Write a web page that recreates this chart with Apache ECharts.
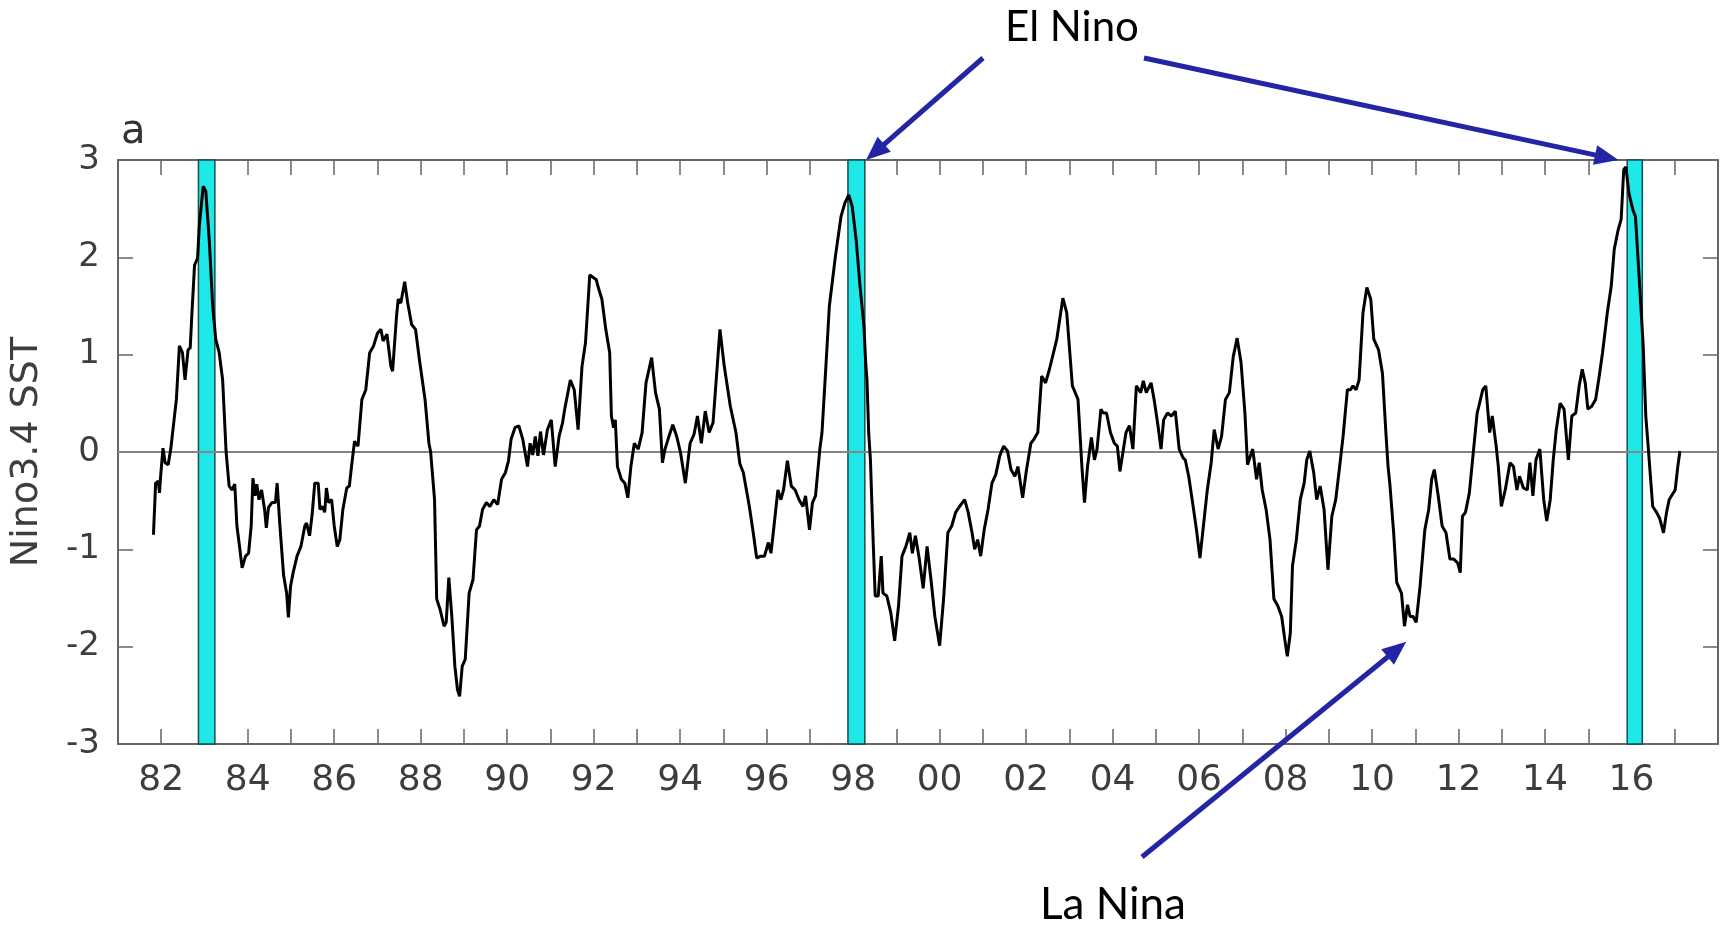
<!DOCTYPE html>
<html><head><meta charset="utf-8">
<script src="https://cdn.jsdelivr.net/npm/echarts@6/dist/echarts.min.js"></script>
<style>html,body{margin:0;padding:0;background:#fff}#c{width:1727px;height:928px}</style>
</head><body><div id="c"></div>
<script>
// ---- data (decimal years, Nino3.4 SST anomaly) ----
const years = [
1981.82,1981.87,1981.93,1981.96,1981.98,1982.04,1982.09,1982.16,1982.22,1982.35,1982.42,1982.49,1982.55,1982.62,1982.67,1982.71,1982.77,1982.84,1982.88,1982.97,
1983.03,1983.11,1983.19,1983.26,1983.34,1983.42,1983.50,1983.53,1983.57,1983.64,1983.70,1983.75,1983.81,1983.87,1983.95,1984.02,1984.08,1984.12,1984.17,1984.21,
1984.26,1984.32,1984.39,1984.43,1984.48,1984.56,1984.64,1984.68,1984.74,1984.83,1984.90,1984.94,1984.99,1985.05,1985.14,1985.23,1985.32,1985.36,1985.43,1985.49,
1985.55,1985.63,1985.67,1985.73,1985.78,1985.82,1985.87,1985.94,1986.00,1986.07,1986.13,1986.20,1986.29,1986.35,1986.40,1986.47,1986.55,1986.64,1986.73,1986.82,
1986.91,1987.00,1987.08,1987.13,1987.22,1987.31,1987.35,1987.44,1987.48,1987.54,1987.63,1987.70,1987.79,1987.88,1987.97,1988.10,1988.19,1988.23,1988.32,1988.37,
1988.45,1988.54,1988.59,1988.65,1988.72,1988.79,1988.85,1988.90,1988.96,1989.03,1989.12,1989.21,1989.29,1989.36,1989.43,1989.52,1989.60,1989.69,1989.78,1989.87,
1989.96,1990.03,1990.09,1990.18,1990.27,1990.36,1990.47,1990.53,1990.59,1990.65,1990.71,1990.77,1990.84,1990.93,1991.02,1991.11,1991.20,1991.28,1991.33,1991.46,
1991.55,1991.64,1991.73,1991.81,1991.91,1992.06,1992.10,1992.19,1992.28,1992.37,1992.41,1992.46,1992.50,1992.55,1992.64,1992.72,1992.79,1992.86,1992.94,1993.03,
1993.12,1993.21,1993.34,1993.43,1993.52,1993.59,1993.65,1993.74,1993.83,1993.92,1994.01,1994.12,1994.23,1994.32,1994.40,1994.49,1994.58,1994.67,1994.76,1994.92,
1995.02,1995.16,1995.29,1995.38,1995.46,1995.60,1995.69,1995.77,1995.86,1995.95,1996.04,1996.10,1996.17,1996.26,1996.33,1996.39,1996.48,1996.57,1996.66,1996.75,
1996.84,1996.90,1996.99,1997.06,1997.13,1997.23,1997.28,1997.37,1997.45,1997.59,1997.72,1997.81,1997.90,1997.98,1998.07,1998.16,1998.25,1998.29,1998.32,1998.36,
1998.40,1998.43,1998.47,1998.51,1998.58,1998.65,1998.69,1998.78,1998.87,1998.96,1999.05,1999.13,1999.22,1999.31,1999.37,1999.44,1999.53,1999.62,1999.71,1999.80,
1999.89,2000.00,2000.09,2000.19,2000.28,2000.37,2000.46,2000.58,2000.66,2000.75,2000.81,2000.88,2000.95,2001.03,2001.12,2001.21,2001.30,2001.39,2001.48,2001.57,
2001.65,2001.74,2001.81,2001.92,2002.01,2002.11,2002.18,2002.27,2002.36,2002.45,2002.54,2002.71,2002.85,2002.94,2003.07,2003.20,2003.29,2003.35,2003.42,2003.51,
2003.58,2003.64,2003.73,2003.78,2003.86,2003.95,2004.04,2004.11,2004.17,2004.31,2004.39,2004.47,2004.55,2004.65,2004.71,2004.78,2004.89,2004.96,2005.05,2005.12,
2005.18,2005.27,2005.36,2005.45,2005.54,2005.63,2005.68,2005.76,2005.85,2005.94,2006.02,2006.10,2006.19,2006.28,2006.35,2006.44,2006.52,2006.61,2006.70,2006.79,
2006.88,2006.97,2007.06,2007.12,2007.24,2007.33,2007.39,2007.46,2007.55,2007.64,2007.73,2007.82,2007.91,2007.98,2008.04,2008.11,2008.16,2008.25,2008.34,2008.43,
2008.49,2008.56,2008.65,2008.72,2008.80,2008.89,2008.98,2009.07,2009.16,2009.25,2009.33,2009.43,2009.50,2009.56,2009.63,2009.70,2009.79,2009.88,2009.97,2010.04,
2010.15,2010.24,2010.32,2010.37,2010.41,2010.50,2010.57,2010.68,2010.75,2010.82,2010.88,2010.95,2011.02,2011.11,2011.22,2011.31,2011.38,2011.44,2011.53,2011.62,
2011.71,2011.80,2011.89,2011.98,2012.04,2012.09,2012.16,2012.25,2012.34,2012.43,2012.47,2012.56,2012.63,2012.72,2012.78,2012.87,2012.92,2012.99,2013.08,2013.19,
2013.27,2013.35,2013.41,2013.50,2013.59,2013.65,2013.72,2013.79,2013.88,2013.97,2014.04,2014.12,2014.19,2014.26,2014.35,2014.44,2014.54,2014.62,2014.71,2014.79,
2014.86,2014.93,2014.99,2015.08,2015.17,2015.24,2015.33,2015.44,2015.53,2015.60,2015.69,2015.76,2015.82,2015.87,2015.94,2016.03,2016.09,2016.18,2016.27,2016.33,
2016.39,2016.42,2016.49,2016.58,2016.65,2016.74,2016.81,2016.87,2016.94,2017.01,2017.07,2017.12
];
const sst = [
-0.85,-0.32,-0.30,-0.42,-0.28,0.04,-0.11,-0.13,0.03,0.54,1.09,1.02,0.74,1.05,1.07,1.43,1.92,1.99,2.32,2.73,
2.68,2.18,1.50,1.16,1.02,0.74,0.00,-0.15,-0.35,-0.39,-0.33,-0.76,-0.97,-1.19,-1.07,-1.04,-0.76,-0.27,-0.45,-0.33,
-0.49,-0.39,-0.59,-0.78,-0.57,-0.52,-0.52,-0.32,-0.73,-1.27,-1.45,-1.70,-1.38,-1.24,-1.07,-0.97,-0.76,-0.73,-0.86,-0.64,
-0.32,-0.32,-0.59,-0.56,-0.62,-0.37,-0.52,-0.49,-0.76,-0.97,-0.90,-0.59,-0.37,-0.35,-0.15,0.11,0.06,0.54,0.64,1.02,
1.09,1.22,1.26,1.14,1.21,0.88,0.83,1.39,1.57,1.53,1.75,1.53,1.31,1.26,0.95,0.54,0.09,0.00,-0.49,-1.51,
-1.62,-1.79,-1.75,-1.29,-1.69,-2.20,-2.44,-2.51,-2.20,-2.13,-1.45,-1.31,-0.80,-0.76,-0.59,-0.52,-0.56,-0.49,-0.54,-0.28,
-0.21,-0.09,0.13,0.25,0.27,0.13,-0.15,0.09,-0.03,0.16,-0.04,0.21,-0.03,0.23,0.33,-0.15,0.16,0.30,0.44,0.74,
0.64,0.23,0.88,1.12,1.82,1.77,1.70,1.57,1.26,1.02,0.37,0.25,0.33,-0.15,-0.28,-0.32,-0.47,-0.15,0.09,0.03,
0.20,0.71,0.97,0.61,0.44,-0.11,0.03,0.16,0.28,0.16,-0.01,-0.32,0.09,0.18,0.37,0.09,0.42,0.20,0.30,1.26,
0.88,0.47,0.20,-0.12,-0.21,-0.56,-0.83,-1.09,-1.07,-1.07,-0.93,-1.04,-0.76,-0.39,-0.49,-0.39,-0.09,-0.35,-0.39,-0.49,
-0.56,-0.45,-0.80,-0.52,-0.45,0.03,0.20,0.88,1.50,2.01,2.42,2.56,2.64,2.52,2.18,1.70,1.29,0.92,0.74,0.20,
-0.08,-0.49,-1.00,-1.48,-1.48,-1.07,-1.45,-1.48,-1.65,-1.94,-1.58,-1.07,-0.97,-0.83,-1.04,-0.86,-1.10,-1.40,-0.97,-1.31,
-1.69,-1.99,-1.52,-0.83,-0.76,-0.62,-0.56,-0.49,-0.62,-0.83,-1.00,-0.90,-1.07,-0.80,-0.59,-0.32,-0.23,-0.04,0.06,0.01,
-0.18,-0.25,-0.15,-0.47,-0.18,0.09,0.13,0.20,0.78,0.71,0.85,1.16,1.58,1.43,0.68,0.54,-0.15,-0.52,-0.15,0.15,
-0.08,0.03,0.44,0.40,0.40,0.20,0.09,0.06,-0.20,0.20,0.27,0.03,0.68,0.61,0.73,0.61,0.71,0.54,0.27,0.03,
0.33,0.40,0.37,0.42,0.03,-0.06,-0.08,-0.25,-0.52,-0.80,-1.09,-0.76,-0.39,-0.11,0.23,0.03,0.16,0.54,0.61,0.98,
1.17,0.92,0.40,-0.13,0.03,-0.28,-0.11,-0.39,-0.59,-0.90,-1.51,-1.58,-1.69,-1.92,-2.10,-1.86,-1.17,-0.90,-0.49,-0.32,
-0.08,0.01,-0.21,-0.49,-0.35,-0.59,-1.21,-0.66,-0.49,-0.15,0.16,0.64,0.64,0.68,0.64,0.74,1.43,1.69,1.57,1.16,
1.05,0.81,0.20,-0.15,-0.32,-0.83,-1.34,-1.45,-1.79,-1.57,-1.69,-1.69,-1.75,-1.38,-0.80,-0.59,-0.28,-0.18,-0.45,-0.76,
-0.83,-1.10,-1.10,-1.14,-1.24,-0.66,-0.62,-0.42,-0.01,0.40,0.47,0.64,0.68,0.20,0.37,0.06,-0.15,-0.56,-0.39,-0.11,
-0.15,-0.39,-0.25,-0.37,-0.39,-0.11,-0.45,-0.08,0.03,-0.49,-0.71,-0.49,-0.08,0.23,0.50,0.44,-0.08,0.37,0.40,0.68,
0.85,0.71,0.44,0.47,0.54,0.74,1.02,1.43,1.70,2.08,2.28,2.39,2.90,2.93,2.66,2.49,2.42,1.77,1.09,0.37,
0.03,-0.15,-0.56,-0.62,-0.68,-0.83,-0.62,-0.49,-0.44,-0.39,-0.15,0.01
];
const eventStarts = [1982.86, 1997.88, 2015.90];
const eventEnds   = [1983.24, 1998.27, 2016.25];
const yMin = -3, yMax = 3;
const xMin = 1981, xMax = 2018;
const panelLabel = 'a';
const yTitle = 'Nino3.4 SST';
const elNinoText = 'El Nino';
const laNinaText = 'La Nina';
// arrow targets in data coordinates
const elNinoTargets = [[1998.3, 3], [2015.7, 3]];
const laNinaTarget = [2010.79, -1.95];

// ---- chart ----
const chart = echarts.init(document.getElementById('c'), null, {renderer: 'canvas'});
const axisCol = '#666';
const labelCol = '#3d3d3d';
const font = 'DejaVu Sans';
const xLabelFmt = v => (v % 2 === 0 && v < xMax) ? String(v % 100).padStart(2, '0') : '';

const commonX = {
  type: 'value', min: xMin, max: xMax, interval: 1,
  axisLine: {show: true, onZero: false, lineStyle: {color: axisCol, width: 2}},
  axisTick: {show: true, inside: true, length: 15, lineStyle: {color: axisCol, width: 1.5}},
  splitLine: {show: false}
};
const commonY = {
  type: 'value', min: yMin, max: yMax, interval: 1,
  axisLine: {show: true, onZero: false, lineStyle: {color: axisCol, width: 2}},
  axisTick: {show: true, inside: true, length: 15, lineStyle: {color: axisCol, width: 1.5}},
  splitLine: {show: false}
};

chart.setOption({
  animation: false,
  backgroundColor: '#fff',
  grid: {left: 118, right: 9, top: 160, bottom: 184, containLabel: false},
  title: {
    text: panelLabel, left: 116, top: 108,
    textStyle: {fontFamily: font, fontSize: 40, fontWeight: 'normal', color: '#333'}
  },
  xAxis: [
    Object.assign({}, commonX, {position: 'bottom',
      axisLabel: {formatter: xLabelFmt, fontFamily: font, fontSize: 36, color: labelCol, margin: 19}}),
    Object.assign({}, commonX, {position: 'top', axisLabel: {show: false}})
  ],
  yAxis: [
    Object.assign({}, commonY, {position: 'left',
      axisLabel: {fontFamily: font, fontSize: 34, color: labelCol, margin: 18},
      name: yTitle, nameLocation: 'middle', nameGap: 72,
      nameTextStyle: {fontFamily: font, fontSize: 38, color: labelCol}}),
    Object.assign({}, commonY, {position: 'right', axisLabel: {show: false}})
  ],
  series: [
    {
      name: 'marks', type: 'line', data: [], z: 1, silent: true,
      markArea: {
        silent: true,
        itemStyle: {color: '#1fe8e8', borderColor: '#124f4f', borderWidth: 1.5},
        data: eventStarts.map((s, i) => [{xAxis: s}, {xAxis: eventEnds[i]}])
      },
      markLine: {
        silent: true, symbol: ['none', 'none'], label: {show: false},
        lineStyle: {color: '#858585', width: 2, type: 'solid'},
        data: [{yAxis: 0}]
      }
    },
    {
      name: 'Nino3.4', type: 'line', z: 5, showSymbol: false, symbol: 'none',
      data: years.map((y, i) => [y, sst[i]]),
      lineStyle: {color: '#000', width: 3}
    }
  ]
});

// ---- annotations ----
const arrowCol = '#2424a6';
function arrow(sx, sy, tx, ty) {
  const dx = tx - sx, dy = ty - sy, len = Math.hypot(dx, dy);
  const ux = dx / len, uy = dy / len, nx = -uy, ny = ux;
  const L = 24, W = 10;
  const bx = tx - ux * L, by = ty - uy * L;
  return [
    {type: 'line', silent: true, z: 100,
     shape: {x1: sx, y1: sy, x2: bx + ux * 2, y2: by + uy * 2},
     style: {stroke: arrowCol, lineWidth: 5}},
    {type: 'polygon', silent: true, z: 100,
     shape: {points: [[tx, ty], [bx + nx * W, by + ny * W], [bx - nx * W, by - ny * W]]},
     style: {fill: arrowCol}}
  ];
}
const toPx = p => chart.convertToPixel({xAxisIndex: 0, yAxisIndex: 0}, p);
const t1 = toPx(elNinoTargets[0]);
const t2 = toPx(elNinoTargets[1]);
const t3 = toPx(laNinaTarget);
const g = [];
g.push(...arrow(983, 58, t1[0], t1[1]));
g.push(...arrow(1144, 58, t2[0], t2[1]));
g.push(...arrow(1142, 857, t3[0], t3[1]));
g.push({type: 'text', silent: true, z: 100,
  style: {x: 1072, y: 27, text: elNinoText, align: 'center', verticalAlign: 'middle',
          fontFamily: 'Lato', fontSize: 42, fill: '#000'}});
g.push({type: 'text', silent: true, z: 100,
  style: {x: 1113, y: 905, text: laNinaText, align: 'center', verticalAlign: 'middle',
          fontFamily: 'Lato', fontSize: 44, fill: '#000'}});
chart.setOption({graphic: g});
</script>
</body></html>
